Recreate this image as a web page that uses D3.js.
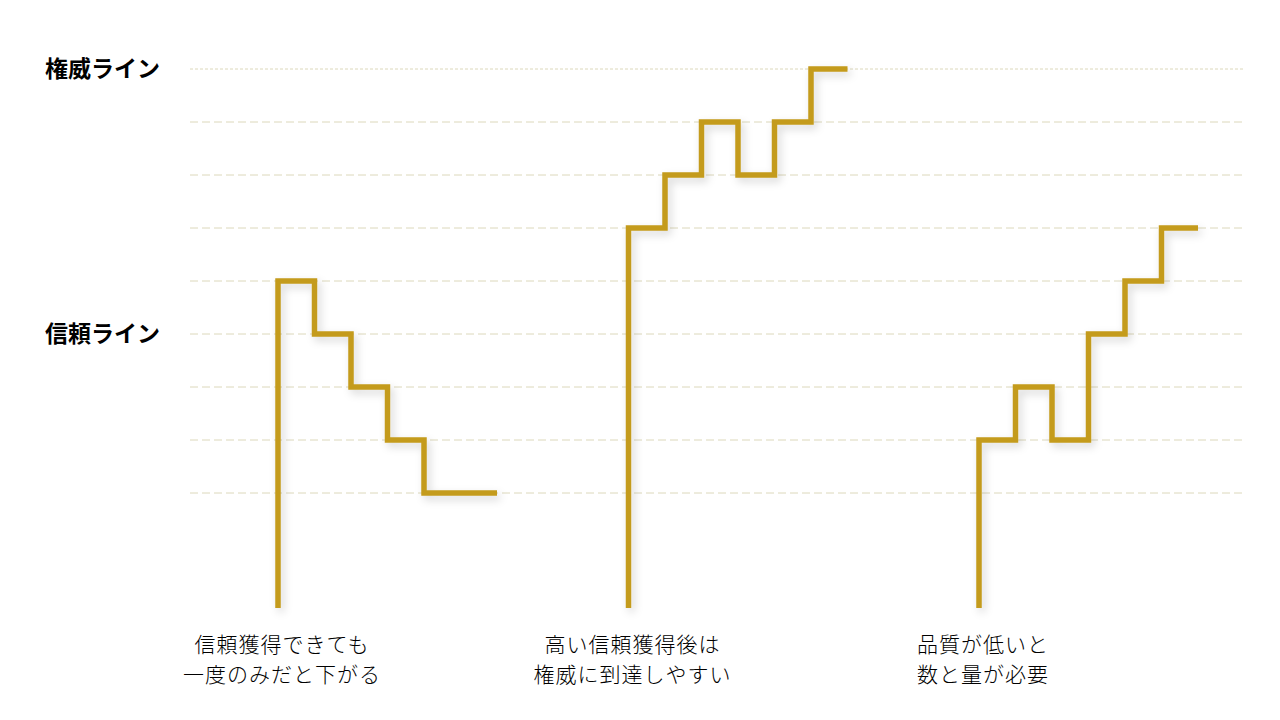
<!DOCTYPE html>
<html>
<head>
<meta charset="utf-8">
<script src="https://cdn.jsdelivr.net/npm/d3@7"></script>
<style>
  body { margin: 0; background: #fff; }
</style>
</head>
<body>
<svg id="chart"></svg>
<script>
// grid levels, the two named lines, and the three step series
const levels = [1, 2, 3, 4, 5, 6, 7, 8, 9];
const lineNames = ["信頼ライン", "権威ライン"];
const lineLevels = [4, 9];
const groups = ["a", "b", "c"];
const groupLabels = [
  ["信頼獲得できても", "一度のみだと下がる"],
  ["高い信頼獲得後は", "権威に到達しやすい"],
  ["品質が低いと", "数と量が必要"]
];
const seriesA = [5, 4, 3, 2, 1, 1];
const seriesB = [6, 7, 8, 7, 8, 9];
const seriesC = [2, 3, 2, 4, 5, 6];
const baseline = 0;

const width = 1280;
const height = 720;

const svg = d3.select("#chart").attr("width", width).attr("height", height);

const defs = svg.append("defs");
const shadow = defs.append("filter").attr("id", "shadow")
  .attr("x", "-20%").attr("y", "-20%").attr("width", "140%").attr("height", "140%");
shadow.append("feDropShadow")
  .attr("dx", 3).attr("dy", 4).attr("stdDeviation", 4)
  .attr("flood-color", "#000").attr("flood-opacity", 0.16);

// baseline sits a bit further below the first grid line
const y = d3.scaleLinear().domain([baseline, 1, 9]).range([608, 493, 69]);

const gx = d3.scalePoint().domain(groups).range([278, 979]);
const step = d3.scaleLinear().domain([0, 6]).range([0, 219]);

// grid
svg.append("g")
  .selectAll("line")
  .data(levels)
  .join("line")
  .attr("x1", 190)
  .attr("x2", 1245)
  .attr("y1", (d) => y(d))
  .attr("y2", (d) => y(d))
  .attr("stroke", "#dcd8bb")
  .attr("stroke-width", 1)
  .attr("stroke-dasharray", (d) => (d === 9 ? "3,2" : "8,4"));

// left labels
svg.append("g")
  .selectAll("text")
  .data(lineNames)
  .join("text")
  .attr("x", 160)
  .attr("y", (d, i) => y(lineLevels[i]))
  .attr("dy", "0.35em")
  .attr("text-anchor", "end")
  .style("font-family", "'Noto Sans CJK JP', sans-serif")
  .style("font-weight", 700)
  .style("font-size", "23px")
  .style("fill", "#000")
  .text((d) => d);

// steps
const line = d3.line()
  .x((d) => d[0])
  .y((d) => d[1])
  .curve(d3.curveStepAfter);

[seriesA, seriesB, seriesC].forEach((vals, gi) => {
  const x0 = gx(groups[gi]);
  const pts = [[x0, y(baseline)]];
  vals.forEach((v, i) => pts.push([x0 + step(i), y(v)]));
  pts.push([x0 + step(vals.length), y(vals[vals.length - 1])]);
  // vertical rise from baseline, then steps
  const path = "M" + pts[0][0] + "," + pts[0][1] + line(pts.slice(1)).replace(/^M/, "L");
  svg.append("path")
    .attr("d", path)
    .attr("fill", "none")
    .attr("stroke", "#c49b1d")
    .attr("stroke-width", 5.5)
    .attr("stroke-linejoin", "miter")
    .attr("filter", "url(#shadow)");
});

// bottom labels
const lab = svg.append("g");
groupLabels.forEach((lines, gi) => {
  lines.forEach((t, li) => {
    lab.append("text")
      .attr("x", gx(groups[gi]) + 4)
      .attr("y", 645 + li * 30)
      .attr("dy", "0.35em")
      .attr("text-anchor", "middle")
      .style("font-family", "'Noto Sans CJK JP', sans-serif")
      .style("font-weight", 300)
      .style("font-size", "21px")
      .style("letter-spacing", "1px")
      .style("fill", "#000")
      .text(t);
  });
});
</script>
</body>
</html>
